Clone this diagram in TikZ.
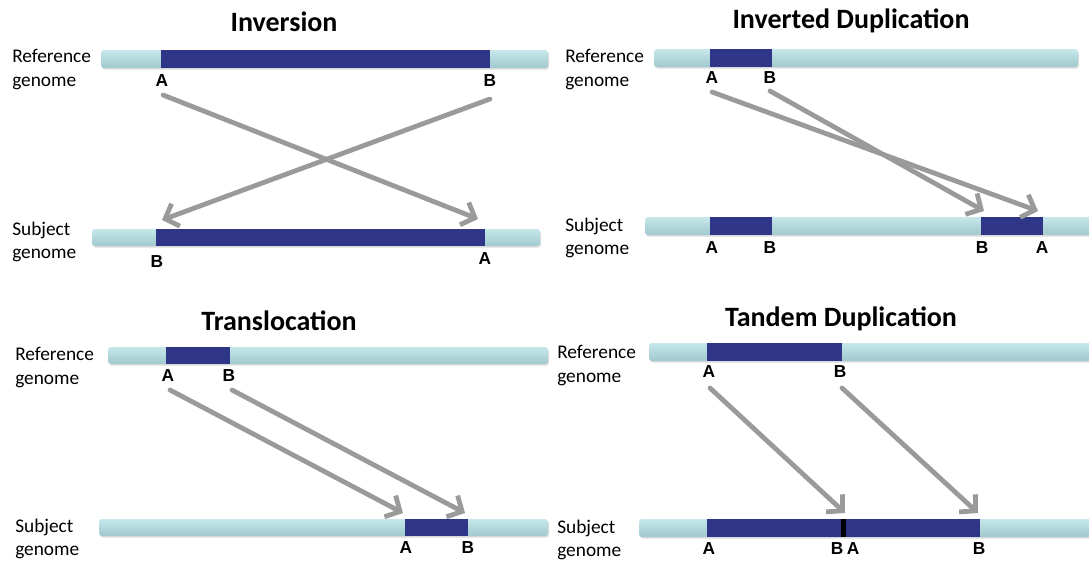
\documentclass[tikz,border=0pt]{standalone}
\usepackage{fontspec}
\setmainfont{Carlito}
\newfontfamily\bpfont{Liberation Sans}
\usetikzlibrary{arrows.meta}
\definecolor{chromotop}{HTML}{C6E8EB}
\definecolor{chromobot}{HTML}{A0C8CD}
\definecolor{segblue}{HTML}{2F3587}
\definecolor{linkgray}{HTML}{9A9A9A}
\begin{document}
\begin{tikzpicture}[x=0.75pt,y=-0.75pt,
  chromosome/.style={rounded corners=2.2pt, top color=chromotop, bottom color=chromobot, draw=none},
  barshadow/.style={fill=black!30, opacity=0.45, rounded corners=2.2pt},
  segment/.style={fill=segblue},
  junction/.style={fill=black},
  paneltitle/.style={font=\bfseries\fontsize{21}{25}\selectfont, inner sep=0},
  side/.style={font=\fontsize{14.5}{17}\selectfont, anchor=mid west, inner sep=0, yshift=-2.2pt},
  bplabel/.style={font=\bpfont\bfseries\fontsize{13}{15}\selectfont, inner sep=0},
  link/.style={draw=linkgray, line width=3.6pt, line cap=round,
    -{Straight Barb[length=8.5pt,width=18pt,line width=3.6pt]}}
]
\useasboundingbox (0,0) rectangle (1089,561);
\clip (0,0) rectangle (1089,561);

% a chromosome bar with a soft shadow underneath
\newcommand\chromobar[4]{%
  \path[barshadow] (#1+1,#2+1.5) rectangle (#3+1,#4+1.5);
  \path[chromosome] (#1,#2) rectangle (#3,#4);}

% ---------------- Inversion ----------------
\node[paneltitle] (invT) at (284,22) {Inversion};
\node[side] (invR1) at (12,56) {Reference};
\node[side] (invR2) at (12,80) {genome};
\chromobar{101}{50}{548}{68}
\path[segment] (161,50) rectangle (490,68);
\node[bplabel] (invRA) at (162,81) {A};
\node[bplabel] (invRB) at (490,81) {B};
\node[side] (invS1) at (12,229) {Subject};
\node[side] (invS2) at (12,252) {genome};
\chromobar{92}{229}{540}{246}
\path[segment] (156,229) rectangle (485,246);
\node[bplabel] (invSB) at (157,262) {B};
\node[bplabel] (invSA) at (485,259) {A};
\coordinate (invA1) at (163,95);
\coordinate (invA2) at (478,219);
\coordinate (invB1) at (490,99);
\coordinate (invB2) at (162,220);
\draw[link] (invA1) -- (invA2);
\draw[link] (invB1) -- (invB2);

% ---------------- Inverted Duplication ----------------
\node[paneltitle] (idT) at (851,21) {Inverted Duplication};
\node[side] (idR1) at (565,56) {Reference};
\node[side] (idR2) at (565,80) {genome};
\chromobar{654}{49}{1078}{67}
\path[segment] (710,49) rectangle (772,67);
\node[bplabel] (idRA) at (712,78) {A};
\node[bplabel] (idRB) at (770,78) {B};
\node[side] (idS1) at (565,225) {Subject};
\node[side] (idS2) at (565,248) {genome};
\chromobar{645}{217}{1100}{235}
\path[segment] (710,217) rectangle (772,235);
\path[segment] (981,217) rectangle (1043,235);
\node[bplabel] (idSA1) at (712,248) {A};
\node[bplabel] (idSB1) at (770,248) {B};
\node[bplabel] (idSB2) at (982,248) {B};
\node[bplabel] (idSA2) at (1042,248) {A};
\coordinate (idA1) at (712,92);
\coordinate (idA2) at (1038,211);
\coordinate (idB1) at (770,91);
\coordinate (idB2) at (984,211);
\draw[link] (idA1) -- (idA2);
\draw[link] (idB1) -- (idB2);

% ---------------- Translocation ----------------
\node[paneltitle] (trT) at (279,321) {Translocation};
\node[side] (trR1) at (15,354) {Reference};
\node[side] (trR2) at (15,378) {genome};
\chromobar{108}{347}{548}{364}
\path[segment] (166,347) rectangle (230,364);
\node[bplabel] (trRA) at (168,376) {A};
\node[bplabel] (trRB) at (229,376) {B};
\node[side] (trS1) at (15,526) {Subject};
\node[side] (trS2) at (15,549) {genome};
\chromobar{99}{519}{548}{536}
\path[segment] (405,519) rectangle (468,536);
\node[bplabel] (trSA) at (406,548) {A};
\node[bplabel] (trSB) at (468,548) {B};
\coordinate (trA1) at (170,390);
\coordinate (trA2) at (403,513);
\coordinate (trB1) at (232,390);
\coordinate (trB2) at (465,513);
\draw[link] (trA1) -- (trA2);
\draw[link] (trB1) -- (trB2);

% ---------------- Tandem Duplication ----------------
\node[paneltitle] (tdT) at (841,319) {Tandem Duplication};
\node[side] (tdR1) at (557,352) {Reference};
\node[side] (tdR2) at (557,376) {genome};
\chromobar{649}{343}{1100}{361}
\path[segment] (707,343) rectangle (842,361);
\node[bplabel] (tdRA) at (709,372) {A};
\node[bplabel] (tdRB) at (840,372) {B};
\node[side] (tdS1) at (557,527) {Subject};
\node[side] (tdS2) at (557,550) {genome};
\chromobar{639}{519}{1100}{537}
\path[segment] (707,519) rectangle (980,537);
\path[junction] (841,519) rectangle (846,537);
\node[bplabel] (tdSA1) at (709,549) {A};
\node[bplabel] (tdSB1) at (837,549) {B};
\node[bplabel] (tdSA2) at (853,549) {A};
\node[bplabel] (tdSB2) at (979,549) {B};
\coordinate (tdA1) at (710,388);
\coordinate (tdA2) at (845,513);
\coordinate (tdB1) at (842,388);
\coordinate (tdB2) at (978,513);
\draw[link] (tdA1) -- (tdA2);
\draw[link] (tdB1) -- (tdB2);
\end{tikzpicture}
\end{document}
